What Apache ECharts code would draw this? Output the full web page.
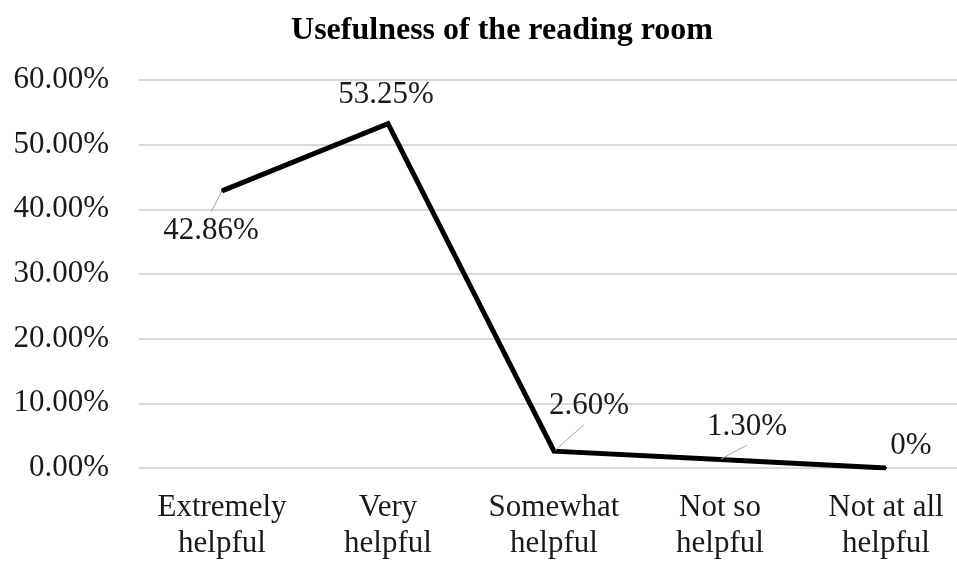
<!DOCTYPE html>
<html>
<head>
<meta charset="utf-8">
<script src="https://cdn.jsdelivr.net/npm/echarts@6/dist/echarts.min.js"></script>
<style>
  html, body { margin: 0; padding: 0; background: #ffffff; overflow: hidden; }
  /* the plot runs slightly past the right edge of the page */
  #chart { width: 980px; height: 563px; }
</style>
</head>
<body>
<div id="chart"></div>
<script>
// Survey responses: how useful readers found the reading room
const categories = [
  'Extremely\nhelpful',
  'Very\nhelpful',
  'Somewhat\nhelpful',
  'Not so\nhelpful',
  'Not at all\nhelpful'
];
const shares = [42.86, 53.25, 2.60, 1.30, 0];
const shareLabels = ['42.86%', '53.25%', '2.60%', '1.30%', '0%'];
const yTicks = [0, 10, 20, 30, 40, 50, 60];

// Value label placement relative to each point (px), label box padding
// (sets where the leader line stops) and whether a leader line is drawn
const labelShift = [[-11, 40], [-2, -29], [30, -45], [27, -33], [25, -22]];
const labelPad = [[6, 0, 0, 0], [0, 0, 0, 0], [0, 0, 6, 10], [0, 0, 6, 0], [0, 0, 0, 0]];
const leaderShown = [true, false, true, true, false];

const serif = '"Liberation Serif", "Times New Roman", serif';

const chart = echarts.init(document.getElementById('chart'), null, { renderer: 'canvas' });

chart.setOption({
  animation: false,
  backgroundColor: '#ffffff',
  title: {
    text: 'Usefulness of the reading room',
    left: 497,
    textAlign: 'center',
    top: 10,
    textStyle: { fontFamily: serif, fontWeight: 'bold', fontSize: 32, color: '#000000' }
  },
  grid: { left: 139, top: 80, width: 830, height: 388, containLabel: false },
  xAxis: {
    type: 'category',
    data: categories,
    boundaryGap: true,
    axisLine: { show: false },
    axisTick: { show: false },
    axisLabel: {
      interval: 0,
      margin: 22,
      fontFamily: serif,
      fontSize: 31,
      lineHeight: 36,
      color: '#1a1a1a',
      align: 'center'
    }
  },
  yAxis: {
    type: 'value',
    min: yTicks[0],
    max: yTicks[yTicks.length - 1],
    interval: 10,
    axisLine: { show: false },
    axisTick: { show: false },
    splitLine: { lineStyle: { color: '#d9d9d9', width: 2 } },
    axisLabel: {
      margin: 30,
      fontFamily: serif,
      fontSize: 31,
      color: '#1a1a1a',
      formatter: v => v.toFixed(2) + '%'
    }
  },
  series: [{
    type: 'line',
    data: shares.map((v, i) => ({
      value: v,
      // a transparent box makes the padding part of the label's bounds
      label: { padding: labelPad[i], backgroundColor: 'rgba(255,255,255,0)' },
      labelLine: { show: leaderShown[i] }
    })),
    symbol: 'circle',
    symbolSize: 2,
    showSymbol: true,
    itemStyle: { color: '#000000' },
    lineStyle: { color: '#000000', width: 5, cap: 'butt', join: 'miter' },
    label: {
      show: true,
      position: 'inside',
      fontFamily: serif,
      fontSize: 31,
      color: '#1a1a1a',
      formatter: p => shareLabels[p.dataIndex]
    },
    labelLine: {
      show: true,
      lineStyle: { color: '#a6a6a6', width: 1 }
    },
    labelLayout: p => ({ dx: labelShift[p.dataIndex][0], dy: labelShift[p.dataIndex][1] })
  }]
});
</script>
</body>
</html>
